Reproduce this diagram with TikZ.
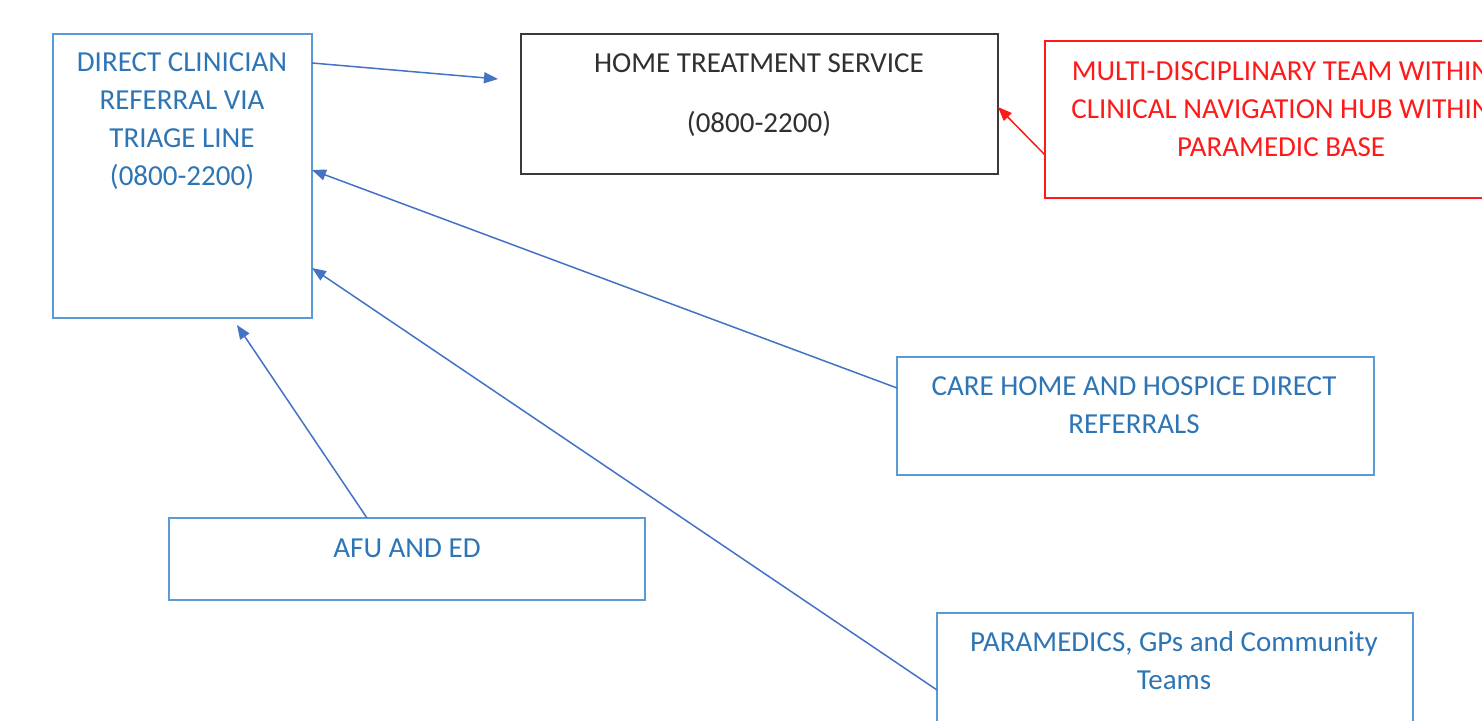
\documentclass[tikz,border=0pt]{standalone}
\usepackage{fontspec}
\setmainfont{Carlito}
\usetikzlibrary{arrows.meta}
\definecolor{txtblue}{HTML}{2E75B6}
\definecolor{boxblue}{HTML}{5B9BD5}
\definecolor{lineblue}{HTML}{4472C4}
\definecolor{dgray}{HTML}{3A3A3A}
\definecolor{tgray}{HTML}{303030}
\definecolor{redc}{HTML}{FF1A1A}
\begin{document}
\begin{tikzpicture}[x=1pt,y=-1pt,
  frame/.style={line width=2pt,anchor=north west,inner sep=0pt,outer sep=0pt},
  bluebox/.style={frame,draw=boxblue},
  graybox/.style={frame,draw=dgray},
  redbox/.style={frame,draw=redc},
  txt/.style={align=center,inner sep=0pt,font=\fontsize{29}{38}\selectfont},
  arr/.style={draw=lineblue,line width=1.5pt,-{Triangle[length=14pt,width=11pt]}},
  rarr/.style={draw=redc,line width=1.5pt,-{Triangle[length=14pt,width=11pt]}}
]
\useasboundingbox (0,0) rectangle (1482,720);
\clip (0,0) rectangle (1482,720);
\fill[white] (0,0) rectangle (1482,720);

% boxes
\node[bluebox,minimum width=259pt,minimum height=284pt] (direct) at (53,34) {};
\node[graybox,minimum width=477pt,minimum height=140pt] (home) at (521,34) {};
\node[redbox,minimum width=472pt,minimum height=157pt] (mdt) at (1045,41) {};
\node[bluebox,minimum width=477pt,minimum height=118pt] (care) at (897,357) {};
\node[bluebox,minimum width=476pt,minimum height=82pt] (afu) at (169,518) {};
\node[bluebox,minimum width=476pt,minimum height=140pt] (para) at (937,613) {};

% texts
\node[txt,text=txtblue] (directtxt) at (182,121) {DIRECT CLINICIAN\\REFERRAL VIA\\TRIAGE LINE\\(0800-2200)};
\node[txt,text=tgray] (hometxt1) at (759,63) {HOME TREATMENT SERVICE};
\node[txt,text=tgray] (hometxt2) at (759,124) {(0800-2200)};
\node[txt,text=redc] (mdttxt) at (1281,109) {MULTI-DISCIPLINARY TEAM WITHIN\\CLINICAL NAVIGATION HUB WITHIN\\PARAMEDIC BASE};
\node[txt,text=txtblue] (caretxt) at (1134,405) {CARE HOME AND HOSPICE DIRECT\\REFERRALS};
\node[txt,text=txtblue] (afutxt) at (407,548) {AFU AND ED};
\node[txt,text=txtblue] (paratxt) at (1174,661) {PARAMEDICS, GPs and Community\\Teams};

% connector end points
\coordinate (homein) at (498,79);

% connectors
\draw[arr] ([yshift=-29pt]direct.north east) -- (homein);
\draw[rarr] ([yshift=-114pt]mdt.north west) -- ([yshift=-73pt]home.north east);
\draw[arr] ([yshift=-31pt]care.north west) -- ([yshift=-136pt]direct.north east);
\draw[arr] ([yshift=-77pt]para.north west) -- ([yshift=-234pt]direct.north east);
\draw[arr] ([xshift=198pt]afu.north west) -- ([xshift=184pt,yshift=-7pt]direct.south west);
\end{tikzpicture}
\end{document}
